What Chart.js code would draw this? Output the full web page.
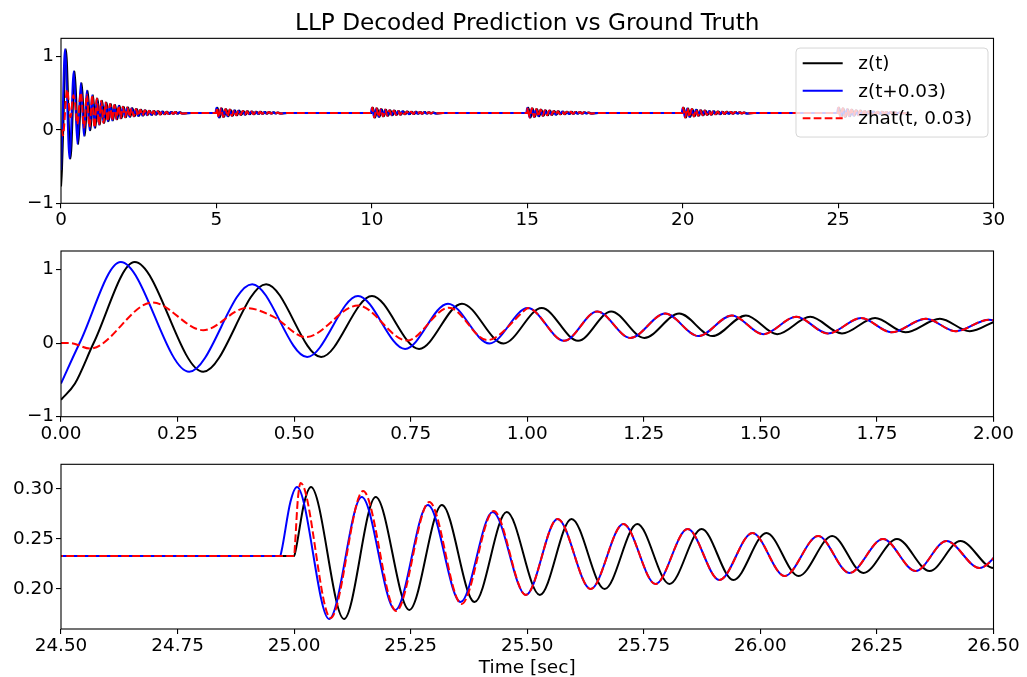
<!DOCTYPE html>
<html>
<head>
<meta charset="utf-8">
<script src="https://cdn.jsdelivr.net/npm/chart.js@4.4.0/dist/chart.umd.min.js"></script>
<style>
html,body{margin:0;padding:0;background:#fff;}
body{width:1027px;height:677px;position:relative;overflow:hidden;}
canvas{position:absolute;left:0;}
</style>
</head>
<body>
<canvas id="c1" width="1027" height="235" style="top:0px"></canvas>
<canvas id="c2" width="1027" height="210" style="top:235px"></canvas>
<canvas id="c3" width="1027" height="232" style="top:445px"></canvas>
<script>
// ---------------- data ----------------
const seriesLabels = ['z(t)', 'z(t+0.03)', 'zhat(t, 0.03)'];

// initial transient (0 .. ~4.2 s): z(t)
const tZ = [0.000,0.030,0.070,0.158,0.305,0.440,0.558,0.667,0.768,0.860,0.949,1.031,1.109,1.180,1.251,1.326,1.397,1.469,1.536,1.607,1.675,1.746,1.811,1.885,1.949,2.020,2.090,2.160,2.230,2.300,2.370,2.440,2.510,2.580,2.650,2.720,2.790,2.860,2.930,3.000,3.070,3.140,3.210,3.280,3.350,3.420,3.490,3.560,3.630,3.700,3.770,3.840,3.910,4.200];
const zZ = [-0.77,-0.55,0.00,1.10,-0.39,0.80,-0.19,0.64,-0.08,0.535,-0.005,0.475,0.03,0.43,0.07,0.40,0.095,0.375,0.12,0.356,0.13,0.34,0.146,0.33,0.16,0.318,0.172,0.305,0.180,0.295,0.187,0.285,0.192,0.276,0.196,0.268,0.2005,0.263,0.205,0.259,0.209,0.255,0.2125,0.252,0.2155,0.249,0.218,0.247,0.220,0.245,0.222,0.243,0.2235,0.233];

// initial transient: z(t+0.03)
const tZs = [0.000,0.040,0.128,0.275,0.410,0.528,0.637,0.738,0.830,0.919,1.001,1.079,1.150,1.221,1.296,1.367,1.439,1.506,1.577,1.645,1.716,1.781,1.855,1.919,1.990,2.060,2.130,2.200,2.270,2.340,2.410,2.480,2.550,2.620,2.690,2.760,2.830,2.900,2.970,3.040,3.110,3.180,3.250,3.320,3.390,3.460,3.530,3.600,3.670,3.740,3.810,3.880,4.170];
const zZs = [-0.55,0.00,1.10,-0.39,0.80,-0.19,0.64,-0.08,0.535,-0.005,0.475,0.03,0.43,0.07,0.40,0.095,0.375,0.12,0.356,0.13,0.34,0.146,0.33,0.16,0.318,0.172,0.305,0.180,0.295,0.187,0.285,0.192,0.276,0.196,0.268,0.2005,0.263,0.205,0.259,0.209,0.255,0.2125,0.252,0.2155,0.249,0.218,0.247,0.220,0.245,0.222,0.243,0.2235,0.233];

// initial transient: zhat(t, 0.03) where it differs (afterwards it lies on z(t+0.03))
const tHat = [0.000,0.020,0.062,0.196,0.305,0.398,0.455,0.525,0.637,0.742,0.832,0.914,0.998];
const zHat = [0.000,0.000,-0.075,0.55,0.175,0.475,0.36,0.08,0.51,0.035,0.48,0.04,0.462];

// disturbance bursts (times relative to burst start)
const burstStarts = [5, 10, 15, 20, 25];
const dtZ = [0.000,0.003,0.022,0.036,0.107,0.175,0.247,0.317,0.387,0.456,0.527,0.595,0.666,0.736,0.805,0.874,0.942,1.013,1.082,1.154,1.221,1.293,1.363,1.429,1.500,1.570,1.640,1.710,1.780,1.850,1.920,1.990,2.060,2.300];
const bZ  = [0.233,0.238,0.287,0.302,0.170,0.292,0.179,0.284,0.187,0.277,0.194,0.270,0.200,0.265,0.205,0.260,0.209,0.256,0.213,0.253,0.216,0.250,0.218,0.248,0.221,0.246,0.222,0.244,0.224,0.242,0.225,0.240,0.226,0.233];
const dtZs = [-0.030,-0.027,-0.008,0.006,0.075,0.145,0.217,0.287,0.357,0.426,0.497,0.565,0.636,0.706,0.775,0.844,0.912,0.983,1.052,1.124,1.191,1.263,1.333,1.399,1.470,1.540,1.610,1.680,1.750,1.820,1.890,1.960,2.030,2.270];
const bZs  = [0.233,0.238,0.287,0.302,0.170,0.292,0.179,0.284,0.187,0.277,0.194,0.270,0.200,0.265,0.205,0.260,0.209,0.256,0.213,0.253,0.216,0.250,0.218,0.248,0.221,0.246,0.222,0.244,0.224,0.242,0.225,0.240,0.226,0.233];
const dtHat = [0.000,0.002,0.008,0.014,0.078,0.148,0.219,0.290,0.359,0.428];
const bHat  = [0.233,0.245,0.290,0.306,0.171,0.298,0.178,0.287,0.185,0.278];

// axes
const xTicksTop = [0, 5, 10, 15, 20, 25, 30];
const yTicksTop = [-1, 0, 1];
const xTicksMid = [0, 0.25, 0.5, 0.75, 1.0, 1.25, 1.5, 1.75, 2.0];
const yTicksMid = [-1, 0, 1];
const xTicksBot = [24.5, 24.75, 25.0, 25.25, 25.5, 25.75, 26.0, 26.25, 26.5];
const yTicksBot = [0.20, 0.25, 0.30];

// ---------------- build the point tables ----------------
function mergeTail(tA, zA, tB, zB) {
  const last = tA[tA.length - 1];
  const t = tA.slice(), z = zA.slice();
  tB.forEach((v, i) => { if (v > last) { t.push(v); z.push(zB[i]); } });
  return [t, z];
}
function buildSeries(tI, zI, dtB, zB) {
  const pts = tI.map((t, i) => ({x: t, y: zI[i]}));
  burstStarts.forEach(s => dtB.forEach((d, i) => pts.push({x: s + d, y: zB[i]})));
  return pts;
}
const [tHatAll, zHatAll] = mergeTail(tHat, zHat, tZs, zZs);
const [dtHatAll, bHatAll] = mergeTail(dtHat, bHat, dtZs, bZs);
const ptsZ = buildSeries(tZ, zZ, dtZ, bZ);
const ptsZs = buildSeries(tZs, zZs, dtZs, bZs);
const ptsHat = buildSeries(tHatAll, zHatAll, dtHatAll, bHatAll);

// ---------------- chart setup ----------------
const FONT = 'DejaVu Sans';
Chart.defaults.font.family = FONT;
Chart.defaults.color = '#000';

const framePlugin = {
  id: 'frame',
  afterDatasetsDraw(chart) {
    const {ctx, chartArea: a} = chart;
    ctx.save();
    ctx.strokeStyle = '#000';
    ctx.lineWidth = 1.1;
    ctx.strokeRect(a.left, a.top, a.right - a.left, a.bottom - a.top);
    ctx.restore();
  }
};

const legendPlugin = {
  id: 'mplLegend',
  afterDatasetsDraw(chart) {
    const ctx = chart.ctx;
    const a = chart.chartArea;
    const w = 192, h = 89;
    const x0 = a.right - 5.5 - w, y0 = a.top + 9.7;
    ctx.save();
    ctx.beginPath();
    ctx.roundRect(x0, y0, w, h, 4);
    ctx.fillStyle = 'rgba(255,255,255,0.8)';
    ctx.fill();
    ctx.strokeStyle = 'rgba(204,204,204,0.8)';
    ctx.lineWidth = 1;
    ctx.stroke();
    const rowY = [15.3, 42.7, 70.3];
    chart.data.datasets.forEach((ds, i) => {
      const y = y0 + rowY[i];
      ctx.beginPath();
      ctx.strokeStyle = ds.borderColor;
      ctx.lineWidth = ds.borderWidth;
      ctx.setLineDash(ds.borderDash || []);
      ctx.moveTo(x0 + 6.7, y);
      ctx.lineTo(x0 + 46.7, y);
      ctx.stroke();
      ctx.setLineDash([]);
      ctx.fillStyle = '#000';
      ctx.font = '18.4px "' + FONT + '"';
      ctx.textBaseline = 'middle';
      ctx.textAlign = 'left';
      ctx.fillText(ds.label, x0 + 62.3, y + 1);
    });
    ctx.restore();
  }
};

function makeDatasets() {
  return [
    {label: seriesLabels[0], data: ptsZ, borderColor: '#000000', borderWidth: 2, order: 3},
    {label: seriesLabels[1], data: ptsZs, borderColor: '#0000ff', borderWidth: 2, order: 2},
    {label: seriesLabels[2], data: ptsHat, borderColor: '#ff0000', borderWidth: 2, borderDash: [7.7, 3.3], order: 1}
  ].map(d => Object.assign(d, {pointRadius: 0, fill: false, cubicInterpolationMode: 'monotone', borderCapStyle: 'butt'}));
}

function axisCommon(ticksArr, fmt) {
  return {
    type: 'linear',
    afterBuildTicks: s => { s.ticks = ticksArr.map(v => ({value: v})); },
    grid: {display: true, drawOnChartArea: false, drawTicks: true, tickLength: 5, color: '#000', lineWidth: 1.1},
    border: {display: false},
    ticks: {font: {size: 18.4, family: FONT}, color: '#000', autoSkip: false, maxRotation: 0, minRotation: 0, callback: v => fmt(v)}
  };
}
const fmtInt = v => (v < 0 ? '\u2212' + Math.abs(v) : String(v));
const fmt2 = v => (v < 0 ? '\u2212' + Math.abs(v).toFixed(2) : v.toFixed(2));

function makeChart(id, cfg) {
  const x = axisCommon(cfg.xTicks, cfg.xFmt);
  x.min = cfg.xMin; x.max = cfg.xMax; x.position = 'bottom';
  x.ticks.padding = 1;
  x.afterFit = s => { s.height = cfg.axisH; };
  if (cfg.xTitle) {
    x.title = {display: true, text: cfg.xTitle, color: '#000', font: {size: 18.5, family: FONT, lineHeight: 1}, padding: 0};
  }
  const y = axisCommon(cfg.yTicks, cfg.yFmt);
  y.min = cfg.yMin; y.max = cfg.yMax; y.position = 'left';
  y.ticks.padding = 2;
  y.afterFit = s => { s.width = 61; };
  const plugins = [framePlugin];
  if (cfg.legend) plugins.push(legendPlugin);
  return new Chart(document.getElementById(id), {
    type: 'line',
    data: {datasets: makeDatasets()},
    options: {
      responsive: false,
      animation: false,
      devicePixelRatio: 1,
      parsing: false,
      layout: {padding: {left: 0, right: 33.5, top: cfg.padTop, bottom: 0}},
      scales: {x, y},
      plugins: {
        legend: {display: false},
        tooltip: {enabled: false},
        title: cfg.title ? {display: true, text: cfg.title, fullSize: false, color: '#000',
          font: {size: 23.2, family: FONT, weight: 'normal'}, padding: {top: 10.2, bottom: 0.3}} : {display: false}
      }
    },
    plugins
  });
}

makeChart('c1', {xMin: 0, xMax: 30, xTicks: xTicksTop, xFmt: fmtInt, yMin: -1, yMax: 1.25, yTicks: yTicksTop, yFmt: fmtInt,
  padTop: 0, axisH: 31.7, title: 'LLP Decoded Prediction vs Ground Truth', legend: true});
makeChart('c2', {xMin: 0, xMax: 2, xTicks: xTicksMid, xFmt: fmt2, yMin: -1, yMax: 1.25, yTicks: yTicksMid, yFmt: fmtInt,
  padTop: 16, axisH: 28.3});
makeChart('c3', {xMin: 24.5, xMax: 26.5, xTicks: xTicksBot, xFmt: fmt2, yMin: 0.16, yMax: 0.3247, yTicks: yTicksBot, yFmt: fmt2,
  padTop: 19.3, axisH: 48, xTitle: 'Time [sec]'});
</script>
</body>
</html>
